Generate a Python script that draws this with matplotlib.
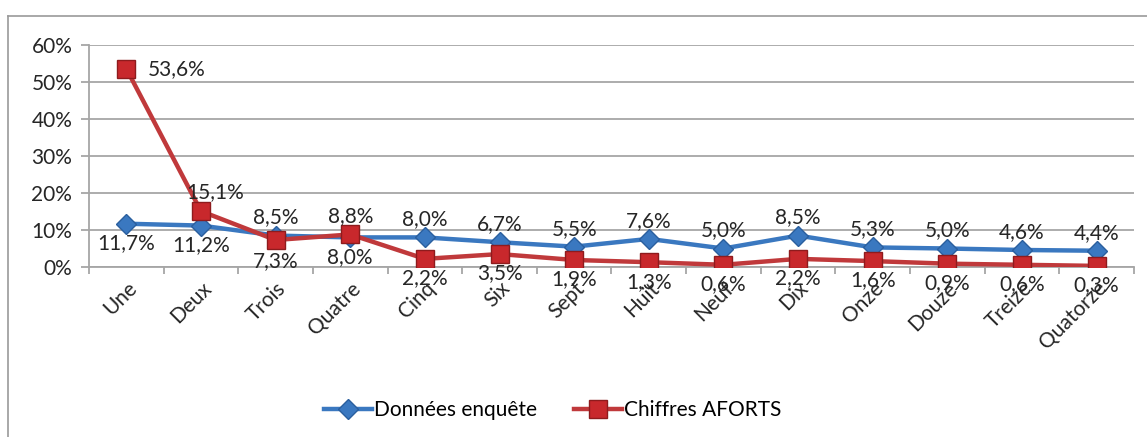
import numpy as np
import matplotlib.pyplot as plt
from matplotlib.lines import Line2D

plt.rcParams['font.family'] = ['Lato', 'DejaVu Sans']

categories = ['Une', 'Deux', 'Trois', 'Quatre', 'Cinq', 'Six', 'Sept', 'Huit',
              'Neuf', 'Dix', 'Onze', 'Douze', 'Treize', 'Quatorze']
enquete = [11.7, 11.2, 8.5, 8.0, 8.0, 6.7, 5.5, 7.6, 5.0, 8.5, 5.3, 5.0, 4.6, 4.4]
aforts = [53.6, 15.1, 7.3, 8.8, 2.2, 3.5, 1.9, 1.3, 0.6, 2.2, 1.6, 0.9, 0.6, 0.3]

# label placement: offsets in points
enq_off = [(0, -14), (0, -14), (0, 13), (0, -14)] + [(0, 13)] * 10
afo_off = [(36, 0), (10, 14), (0, -15), (0, 13)] + [(0, -14)] * 10

blue = '#3a78c0'
red = '#c0393b'

fig = plt.figure(figsize=(11.47, 4.37), dpi=100)
# outer chart frame (left and top edges visible)
fig.add_artist(Line2D([0.007, 0.007], [0.0, 0.963], transform=fig.transFigure,
                      color='#9a9a9a', lw=1.2))
fig.add_artist(Line2D([0.007, 1.0], [0.963, 0.963], transform=fig.transFigure,
                      color='#9a9a9a', lw=1.2))
ax = fig.add_axes([0.0776, 0.389, 0.911, 0.508])

x = np.arange(len(categories))
ax.plot(x, enquete, color=blue, lw=3.2, marker='D', ms=10, mfc=blue,
        mec='#2a5f9e', label='Données enquête', zorder=3)
ax.plot(x, aforts, color=red, lw=3.2, marker='s', ms=12.5, mfc='#c8282c',
        mec='#8e1b1d', label='Chiffres AFORTS', zorder=4)

for i in range(len(x)):
    ax.annotate('{:.1f}%'.format(enquete[i]).replace('.', ','), (x[i], enquete[i]),
                xytext=enq_off[i], textcoords='offset points', ha='center', va='center',
                fontsize=15, color='#262626', zorder=5)
    ax.annotate('{:.1f}%'.format(aforts[i]).replace('.', ','), (x[i], aforts[i]),
                xytext=afo_off[i], textcoords='offset points', ha='center', va='center',
                fontsize=15, color='#262626', zorder=5)

ax.set_xlim(-0.5, len(x) - 0.5)
ax.set_ylim(0, 60)
ax.set_yticks(range(0, 61, 10))
ax.set_yticklabels(['{}%'.format(v) for v in range(0, 61, 10)], fontsize=15, color='#262626')
ax.yaxis.grid(True, color='#a6a6a6', lw=1.3)
ax.set_axisbelow(True)

ax.set_xticks(x)
ax.set_xticklabels(categories, rotation=45, ha='right', rotation_mode='anchor',
                   fontsize=15, color='#262626')
ax.tick_params(axis='x', length=0, pad=8)
ax.set_xticks(np.arange(-0.5, len(x), 1), minor=True)
ax.tick_params(axis='x', which='minor', length=5, color='#a6a6a6', width=1.3)
ax.tick_params(axis='y', length=6, color='#a6a6a6', width=1.3, pad=6)

for s in ['top', 'right']:
    ax.spines[s].set_visible(False)
ax.spines['left'].set_color('#a6a6a6')
ax.spines['left'].set_linewidth(1.3)
ax.spines['bottom'].set_color('#a6a6a6')
ax.spines['bottom'].set_linewidth(1.3)

fig.legend(loc='center', bbox_to_anchor=(0.482, 0.062), ncol=2, frameon=False,
           fontsize=15, handlelength=2.3, columnspacing=1.8, handletextpad=0.1)

plt.savefig('out.png', dpi=100)
